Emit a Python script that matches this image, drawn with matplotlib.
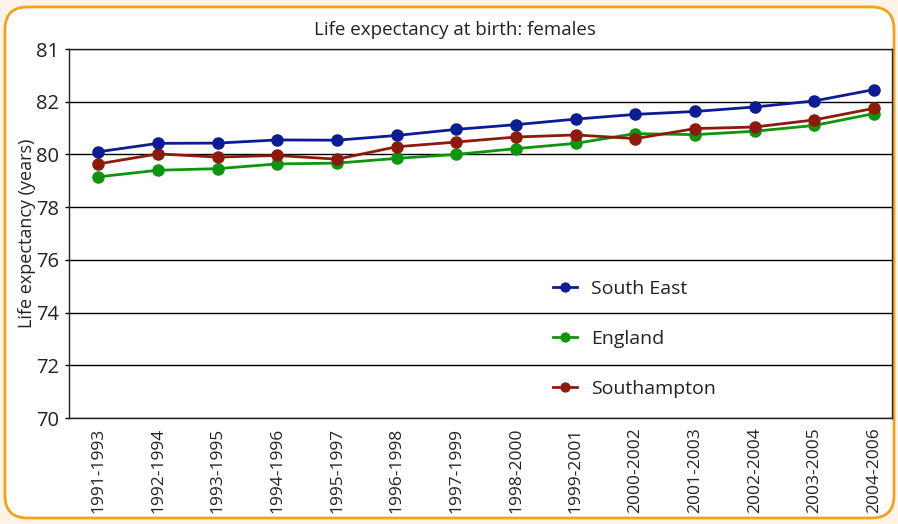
import matplotlib.pyplot as plt
from matplotlib.patches import FancyBboxPatch

plt.rcParams["font.family"] = ["Open Sans", "DejaVu Sans"]

periods = ["1991-1993", "1992-1994", "1993-1995", "1994-1996", "1995-1997",
           "1996-1998", "1997-1999", "1998-2000", "1999-2001", "2000-2002",
           "2001-2003", "2002-2004", "2003-2005", "2004-2006"]
south_east = [80.10, 80.42, 80.43, 80.55, 80.54, 80.72, 80.95, 81.13,
              81.34, 81.52, 81.63, 81.80, 82.03, 82.46]
england = [79.15, 79.40, 79.46, 79.64, 79.67, 79.85, 80.00, 80.22,
           80.42, 80.79, 80.75, 80.88, 81.10, 81.55]
southampton = [79.64, 80.02, 79.90, 79.96, 79.82, 80.29, 80.47, 80.66,
               80.74, 80.60, 80.98, 81.04, 81.31, 81.75]
y_ticks = [70, 72, 74, 76, 78, 80, 82, 84]
y_tick_labels = ["70", "72", "74", "76", "78", "80", "82", "81"]

fig = plt.figure(figsize=(8.98, 5.24), dpi=100, facecolor="#fdf3e6")
box = FancyBboxPatch((5 / 898, 6 / 524), 889 / 898, 511 / 524,
                     boxstyle="round,pad=0,rounding_size=0.025",
                     transform=fig.transFigure, facecolor="white",
                     edgecolor="#f4a21c", linewidth=2, mutation_aspect=898 / 524,
                     zorder=-5)
fig.patches.append(box)

ax = fig.add_axes([69 / 898, 106 / 524, 823 / 898, 369 / 524])
ax.set_zorder(2)
ax.patch.set_alpha(0)
x = range(len(periods))
ax.plot(x, south_east, color="#0b1c94", marker="o", markersize=8, lw=2, label="South East", zorder=5)
ax.plot(x, england, color="#0d960d", marker="o", markersize=8, lw=2, label="England", zorder=3)
ax.plot(x, southampton, color="#8e1a0b", marker="o", markersize=8, lw=2, label="Southampton", zorder=4)

ax.set_xlim(-0.49, 13.3)
ax.set_ylim(70, 84)
ax.set_yticks(y_ticks)
ax.set_yticklabels(y_tick_labels, fontsize=14.5, color="#222222")
ax.set_xticks(list(x))
ax.set_xticklabels(periods, rotation=90, fontsize=12.5, color="#222222")
ax.tick_params(axis="x", length=0, pad=7)
ax.tick_params(axis="y", length=3, width=1, pad=4)
ax.grid(axis="y", color="black", lw=1)
for s in ax.spines.values():
    s.set_color("#222222")
    s.set_linewidth(1)
ax.set_ylabel("Life expectancy (years)", fontsize=13, labelpad=0, color="#222222")
fig.text(0.507, 0.943, "Life expectancy at birth: females", ha="center", va="center",
         fontsize=13.5, color="#222222")

ax.legend(loc="center left", bbox_to_anchor=(0.567, 0.214), frameon=False, fontsize=14,
          labelspacing=1.65, handlelength=1.25, handletextpad=0.7, markerscale=0.8,
          labelcolor="#222222")

fig.savefig("out.png", dpi=100, facecolor=fig.get_facecolor())
